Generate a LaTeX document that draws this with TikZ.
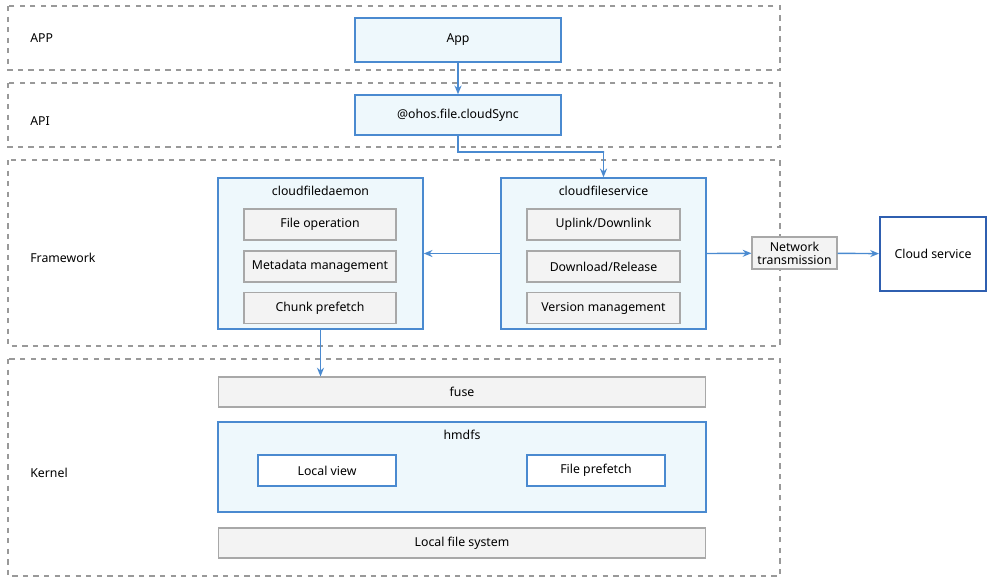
\documentclass[tikz,border=0pt]{standalone}
\usepackage{fontspec}
\setmainfont{Noto Sans}
\usetikzlibrary{arrows.meta,positioning}
\definecolor{boxblue}{HTML}{4A8AD0}
\definecolor{boxfill}{HTML}{EEF8FC}
\definecolor{grayfill}{HTML}{F3F3F3}
\definecolor{grayline}{HTML}{A8A8A8}
\definecolor{cloudblue}{HTML}{2F5FB0}
\tikzset{
  layer/.style={draw=gray!80, dashed, line width=0.6pt},
  bluebox/.style={draw=boxblue, fill=boxfill, line width=0.8pt, inner sep=0pt},
  graybox/.style={draw=grayline, fill=grayfill, line width=0.6pt, inner sep=0pt},
  whitebox/.style={draw=boxblue, fill=white, line width=0.8pt, inner sep=0pt},
  title/.style={anchor=north, inner sep=0pt, yshift=-0.17cm},
  lbl/.style={anchor=west, inner sep=0pt},
  conn/.style={draw=boxblue, line width=0.8pt, -{Stealth[length=5pt,width=4pt]}}
}
\begin{document}
\begin{tikzpicture}[x=0.02cm, y=-0.02cm, font=\fontsize{7}{8}\selectfont]
\useasboundingbox (0,0) rectangle (1000,583);
% layers
\draw[layer] (8,6) rectangle (780,70);
\draw[layer] (8,83) rectangle (780,147);
\draw[layer] (8,160) rectangle (780,346);
\draw[layer] (8,359) rectangle (780,576);
\node[lbl] (lapp) at (30,38) {APP};
\node[lbl] (lapi) at (30,121) {API};
\node[lbl] (lfw) at (30,258) {Framework};
\node[lbl] (lkn) at (30,473) {Kernel};
% app / api
\node[bluebox, minimum width=4.12cm, minimum height=0.88cm] (app) at (458,40) {App};
\node[bluebox, minimum width=4.12cm, minimum height=0.8cm] (sync) at (458,115) {@ohos.file.cloudSync};
% framework
\node[bluebox, minimum width=4.1cm, minimum height=3.02cm] (daemon) at (320.5,253.5) {};
\node[title] (tdaemon) at (daemon.north) {cloudfiledaemon};
\node[graybox, minimum width=3.04cm, minimum height=0.62cm] (fop) at (320,224.5) {File operation};
\node[graybox, minimum width=3.04cm, minimum height=0.62cm] (meta) at (320,266.5) {Metadata management};
\node[graybox, minimum width=3.04cm, minimum height=0.62cm] (chunk) at (320,308) {Chunk prefetch};
\node[bluebox, minimum width=4.1cm, minimum height=3.02cm] (service) at (603.5,253.5) {};
\node[title] (tservice) at (service.north) {cloudfileservice};
\node[graybox, minimum width=3.06cm, minimum height=0.62cm] (uplink) at (603.5,224.5) {Uplink/Downlink};
\node[graybox, minimum width=3.06cm, minimum height=0.62cm] (dlrel) at (603.5,266.5) {Download/Release};
\node[graybox, minimum width=3.06cm, minimum height=0.62cm] (version) at (603.5,308) {Version management};
\node[graybox, minimum width=1.7cm, minimum height=0.64cm, align=center, font=\fontsize{7}{7.5}\selectfont] (net) at (794.5,253) {Network\\transmission};
\node[draw=cloudblue, fill=white, line width=1.1pt, minimum width=2.12cm, minimum height=1.48cm] (cloud) at (933,254) {Cloud service};
% kernel
\node[graybox, minimum width=9.76cm, minimum height=0.6cm] (fuse) at (462,392) {fuse};
\node[bluebox, minimum width=9.76cm, minimum height=1.8cm] (hmdfs) at (462,467) {};
\node[title] (thmdfs) at (hmdfs.north) {hmdfs};
\node[whitebox, minimum width=2.76cm, minimum height=0.62cm] (local) at (327,470.5) {Local view};
\node[whitebox, minimum width=2.76cm, minimum height=0.62cm] (fpre) at (596,470.5) {File prefetch};
\node[graybox, minimum width=9.76cm, minimum height=0.6cm] (lfs) at (462,543) {Local file system};
% connectors
\draw[conn] (app) -- (sync);
\draw[conn] (sync.south) |- (604,152) -| (service.north);
\draw[conn] (service.west) -- (daemon.east);
\draw[conn] (service.east) -- (net);
\draw[conn] (net) -- (cloud);
\draw[conn] (daemon.south) -- (daemon.south |- fuse.north);
\end{tikzpicture}
\end{document}
